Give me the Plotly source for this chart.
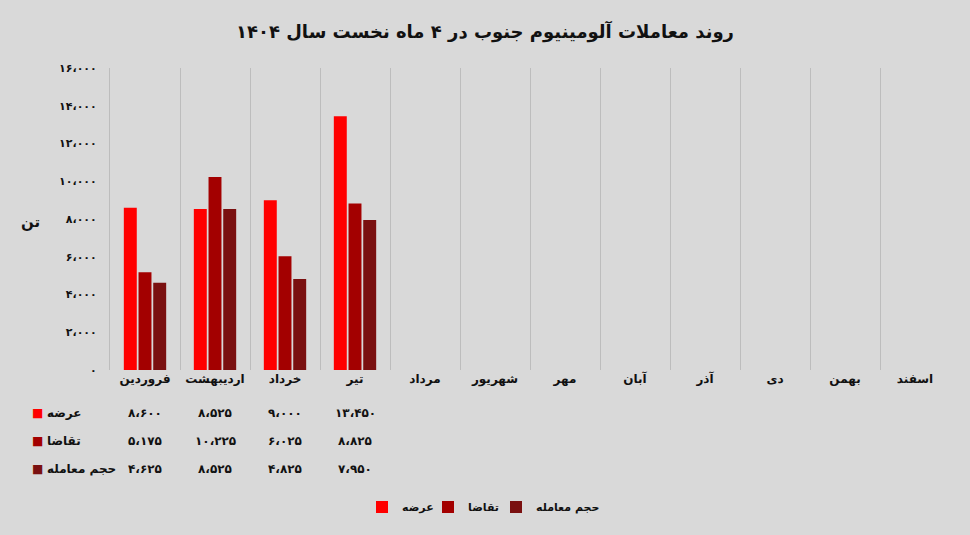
import plotly.graph_objects as go

months = ["فروردین", "اردیبهشت", "خرداد", "تیر", "مرداد", "شهریور",
          "مهر", "آبان", "آذر", "دی", "بهمن", "اسفند"]
series_names = ["عرضه", "تقاضا", "حجم معامله"]
supply = [8600, 8525, 9000, 13450]
demand = [5175, 10225, 6025, 8825]
volume = [4625, 8525, 4825, 7950]
colors = ["#ff0000", "#a30000", "#7a1010"]
y_ticks = [0, 2000, 4000, 6000, 8000, 10000, 12000, 14000, 16000]
title = "روند معاملات آلومینیوم جنوب در ۴ ماه نخست سال ۱۴۰۴"
y_label = "تن"

FONT = "DejaVu Sans"
PD = str.maketrans("0123456789", "۰۱۲۳۴۵۶۷۸۹")


def fa(n):
    return f"{n:,}".replace(",", "،").translate(PD)


fig = go.Figure()
all_series = [supply, demand, volume]
legend_ids = ["legend", "legend2", "legend3"]
legend_x_px = [362, 428, 496]
for name, vals, col, lid in zip(series_names, all_series, colors, legend_ids):
    fig.add_trace(go.Bar(
        x=months[:len(vals)], y=vals, name=name, legend=lid,
        marker=dict(color=col, line=dict(width=0)),
        hoverinfo="skip",
    ))

plot_w = 970 - 110 - 20
row_y = [-0.142, -0.235, -0.328]

# data table below the chart
for ri, (name, vals, col) in enumerate(zip(series_names, all_series, colors)):
    fig.add_annotation(x=(37 - 110) / plot_w, y=row_y[ri], xref="paper", yref="paper", text="■",
                       showarrow=False, font=dict(family=FONT, size=12, color=col),
                       xanchor="center", yanchor="middle")
    fig.add_annotation(x=(45 - 110) / plot_w, y=row_y[ri], xref="paper", yref="paper",
                       text=name, showarrow=False, xanchor="left", yanchor="middle",
                       font=dict(family=FONT, size=12, color="#111", weight="bold"))
    for m, v in zip(months, vals):
        fig.add_annotation(x=m, y=row_y[ri], xref="x", yref="paper", text=fa(v),
                           showarrow=False, font=dict(family=FONT, size=12, color="#111", weight="bold"),
                           xanchor="center", yanchor="middle")

fig.add_annotation(x=(30 - 110) / plot_w, y=(370 - 222) / 302, xref="paper", yref="paper",
                   text=y_label, showarrow=False, xanchor="center", yanchor="middle",
                   font=dict(family=FONT, size=15, color="#111", weight="bold"))

legend_common = dict(orientation="h", xanchor="left", xref="container",
                     y=-0.454, yanchor="middle",
                     font=dict(family=FONT, size=11, color="#111", weight="bold"),
                     bgcolor="rgba(0,0,0,0)", itemwidth=30, tracegroupgap=0)

fig.update_layout(
    width=970, height=535,
    paper_bgcolor="#d9d9d9", plot_bgcolor="#d9d9d9",
    margin=dict(l=110, r=20, t=68, b=165, autoexpand=False),
    barmode="group", bargap=0.37, bargroupgap=0.12,
    title=dict(text=title, x=0.5, xref="container", xanchor="center", y=0.94, yanchor="middle",
               font=dict(family=FONT, size=18, color="#111", weight="bold")),
    showlegend=True,
    legend=dict(x=legend_x_px[0] / 970, **legend_common),
    legend2=dict(x=legend_x_px[1] / 970, **legend_common),
    legend3=dict(x=legend_x_px[2] / 970, **legend_common),
    font=dict(family=FONT, color="#111"),
)

fig.update_xaxes(
    type="category", categoryorder="array", categoryarray=months,
    range=[-0.5, 11.5], tickson="boundaries",
    showgrid=True, gridcolor="#bdbdbd", gridwidth=1,
    showline=False, ticks="", zeroline=False,
    tickfont=dict(family=FONT, size=12, color="#111", weight="bold"),
)
fig.update_yaxes(
    range=[0, 16000], tickvals=y_ticks, ticktext=[fa(t) for t in y_ticks],
    showgrid=False, zeroline=False, showline=True, linecolor="#bdbdbd", linewidth=1,
    ticks="", ticklabelstandoff=10,
    tickfont=dict(family=FONT, size=11, color="#111", weight="bold"),
)

fig.write_html("out.html")
